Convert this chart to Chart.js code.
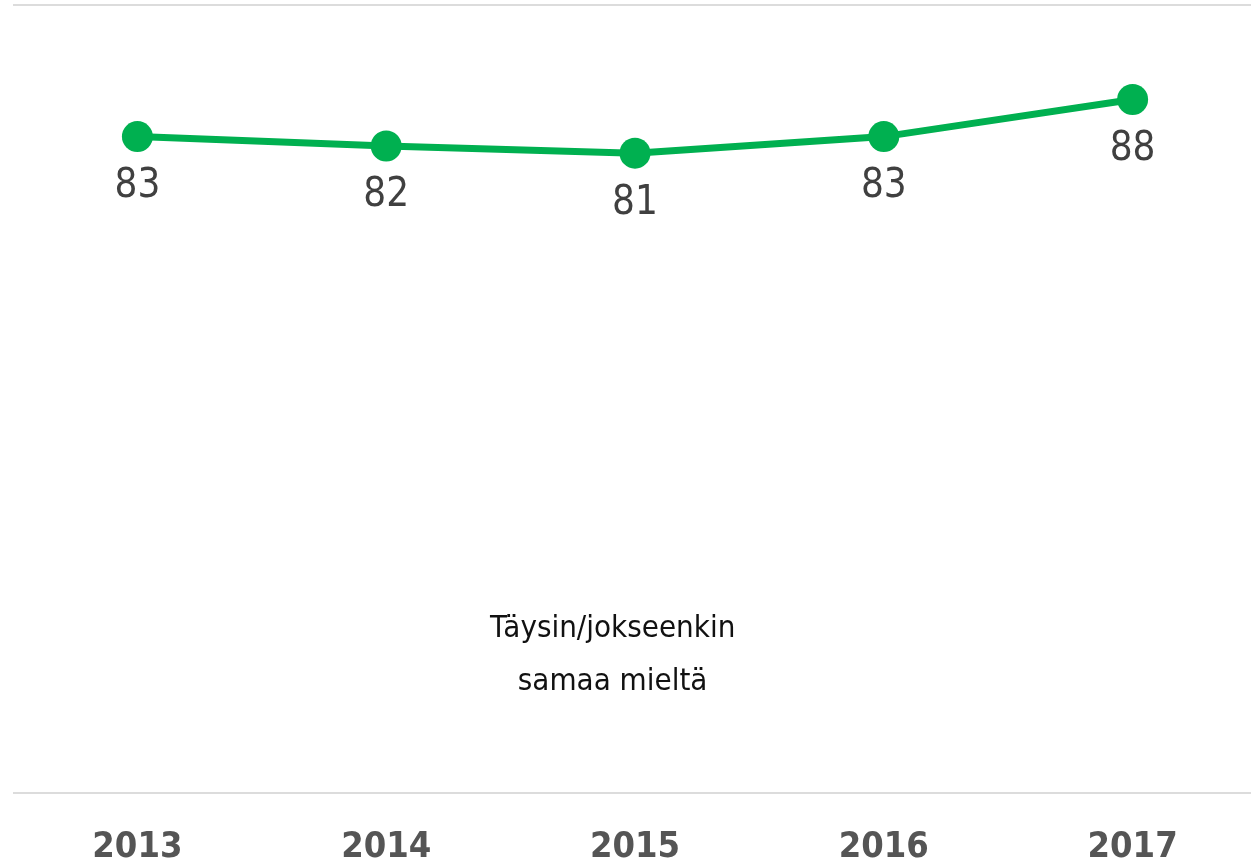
<!DOCTYPE html>
<html>
<head>
<meta charset="utf-8">
<script src="https://cdn.jsdelivr.net/npm/chart.js@4/dist/chart.umd.min.js"></script>
<style>
  html, body { margin: 0; padding: 0; background: #fff; overflow: hidden; }
  #wrap { width: 1251px; height: 867px; overflow: hidden; position: relative; }
  #wrap canvas { display: block; }
</style>
</head>
<body>
<div id="wrap"><canvas id="chart" width="1257" height="867"></canvas></div>
<script>
// ---------------------------------------------------------------------------
// Data
// ---------------------------------------------------------------------------
const years = ["2013", "2014", "2015", "2016", "2017"];
const agreeShare = [83.3, 82.1, 81.2, 83.3, 88.0];
const valueLabels = ["83", "82", "81", "83", "88"];
const seriesName = ["Täysin/jokseenkin", "samaa mieltä"];

const FONT = '"Liberation Sans Narrow", "DejaVu Sans Condensed", sans-serif';
const GREEN = "#00b050";

// Value labels under every point of the main series
const valueLabelPlugin = {
    id: "valueLabels",
    afterDatasetsDraw(chart) {
        const meta = chart.getDatasetMeta(0);
        const ctx = chart.ctx;
        ctx.save();
        ctx.font = "40px " + FONT;
        ctx.fillStyle = "#404040";
        ctx.textAlign = "center";
        ctx.textBaseline = "middle";
        meta.data.forEach((pt, i) => {
            ctx.fillText(valueLabels[i], pt.x, pt.y + 50);
        });
        ctx.restore();
    },
};

// Series name written inside the plot area
const seriesNamePlugin = {
    id: "seriesName",
    afterDraw(chart) {
        const { left, right } = chart.chartArea;
        const ctx = chart.ctx;
        ctx.save();
        ctx.font = "31px " + FONT;
        ctx.fillStyle = "#111111";
        ctx.textAlign = "center";
        ctx.textBaseline = "alphabetic";
        const cx = left + (right - left) * 0.482;
        ctx.fillText(seriesName[0], cx, 637);
        ctx.fillText(seriesName[1], cx, 690);
        ctx.restore();
    },
};

new Chart(document.getElementById("chart"), {
    type: "line",
    data: {
        labels: years,
        datasets: [
            {
                label: seriesName.join(" "),
                data: agreeShare,
                borderColor: GREEN,
                backgroundColor: GREEN,
                borderWidth: 7,
                pointRadius: 15.5,
                pointBorderWidth: 0,
                pointBackgroundColor: GREEN,
                tension: 0,
            },
            {
                // tiny centre dot seen in each marker
                label: "centre",
                data: agreeShare,
                showLine: false,
                pointRadius: 1.8,
                pointBorderWidth: 0,
                pointBackgroundColor: "#5a6bd0",
            },
        ],
    },
    options: {
        responsive: false,
        animation: false,
        layout: { autoPadding: false, padding: { left: 13, top: 5, right: 0, bottom: 0 } },
        plugins: {
            legend: { display: false },
            tooltip: { enabled: false },
        },
        scales: {
            x: {
                offset: true,
                grid: { display: false, drawTicks: false },
                border: { display: false },
                ticks: {
                    color: "#555555",
                    padding: 37,
                    font: { family: FONT, size: 36, weight: "bold", lineHeight: 1 },
                },
                // fixed band under the plot for the year labels
                afterFit(scale) {
                    scale.height = 74;
                },
            },
            y: {
                min: 0,
                max: 100,
                grid: { color: "#dcdcdc", lineWidth: 2, drawTicks: false },
                border: { display: false },
                ticks: { display: false, stepSize: 100 },
            },
        },
    },
    plugins: [valueLabelPlugin, seriesNamePlugin],
});
</script>
</body>
</html>
